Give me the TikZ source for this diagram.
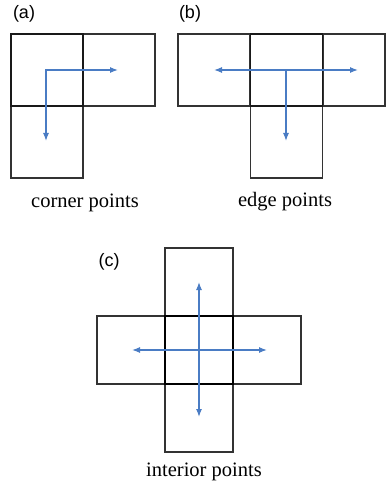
\documentclass[tikz,border=0pt]{standalone}
\usepackage{fontspec}
\setmainfont{Liberation Serif}
\newfontfamily\labfont{Liberation Sans}
\usetikzlibrary{arrows.meta}
\definecolor{arrblue}{HTML}{4A7CC4}
\tikzset{
  cell/.style={draw=black!80, line width=1.1pt, minimum width=72pt, minimum height=72pt, inner sep=0pt, outer sep=0pt},
  ccell/.style={cell, minimum width=68pt, minimum height=68pt},
  thickcell/.style={line width=1.4pt, draw=black!90},
  thickercell/.style={line width=1.8pt, draw=black},
  flow/.style={arrblue, line width=1.2pt, {Latex[length=8pt,width=6pt]}-{Latex[length=8pt,width=6pt]}},
  oneflow/.style={arrblue, line width=1.2pt, -{Latex[length=8pt,width=6pt]}},
  panel/.style={font=\labfont\fontsize{18}{20}\selectfont, inner sep=0pt},
  caption/.style={font=\fontsize{20.5}{23}\selectfont, inner sep=0pt}
}
\begin{document}
\begin{tikzpicture}[x=1pt,y=-1pt]
\useasboundingbox (0,0) rectangle (386,486);
% (a)
\node[panel] (la) at (24,14) {(a)};
\node[cell] (a2) at (119,70) {};
\node[cell] (a3) at (47,142) {};
\node[cell,thickcell] (a1) at (47,70) {};
\coordinate (a2c) at (118,70);
\coordinate (a3c) at (46,141);
\coordinate (a1c) at (46,70);
\draw[flow] (a2c) -- (a1c) -- (a3c);
\node[caption] (ca) at (85,203) {corner points};
% (b)
\node[panel] (lb) at (190,14) {(b)};
\node[cell] (b1) at (214,70) {};
\node[cell, minimum width=62pt] (b3) at (354,70) {};
\node[cell] (b4) at (286.5,142) {};
\node[cell,thickcell] (b2) at (286.5,70) {};
\coordinate (b1c) at (214,70);
\coordinate (b3c) at (358,70);
\coordinate (b2c) at (286,70);
\coordinate (b4c) at (286,141);
\draw[flow] (b1c) -- (b3c);
\draw[oneflow] (b2c) -- (b4c);
\node[caption] (cb) at (285,202) {edge points};
% (c)
\node[panel] (lc) at (109,262) {(c)};
\node[ccell] (ct) at (199,282) {};
\node[ccell] (cbm) at (199,418) {};
\node[ccell] (cl) at (131,350) {};
\node[ccell] (cr) at (267,350) {};
\node[ccell,thickercell] (c0) at (199,350) {};
\coordinate (ctc) at (199,282);
\coordinate (cbc) at (199,417);
\coordinate (clc) at (132,350);
\coordinate (crc) at (267,350);
\draw[flow] (ctc) -- (cbc);
\draw[flow] (clc) -- (crc);
\node[caption] (cc) at (204,472) {interior points};
\end{tikzpicture}
\end{document}
